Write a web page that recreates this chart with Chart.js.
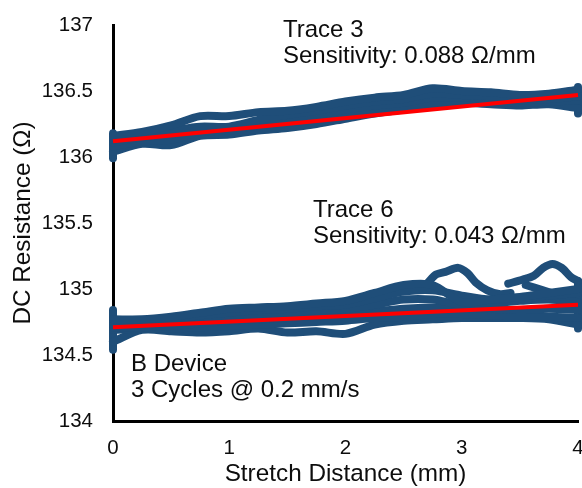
<!DOCTYPE html>
<html>
<head>
<meta charset="utf-8">
<script src="https://cdn.jsdelivr.net/npm/chart.js@4"></script>
<style>
  html, body { margin: 0; padding: 0; background: #fff; }
  #wrap { width: 582px; height: 488px; }
</style>
</head>
<body>
<div id="wrap"><canvas id="myChart" width="582" height="488"></canvas></div>
<script>
// axis ticks
const xTicks = [0, 1, 2, 3, 4];
const yTicks = [134, 134.5, 135, 135.5, 136, 136.5, 137];

// shared stretch positions (mm) for the cycle curves
const xTrace = [0, 0.25, 0.5, 0.75, 1, 1.25, 1.5, 1.75, 2, 2.25, 2.5, 2.75, 3, 3.25, 3.5, 3.75, 4];

// Trace 3 cycle curves (ohm)
const trace3A = [136.16, 136.19, 136.24, 136.31, 136.31, 136.34, 136.35, 136.38, 136.42, 136.45, 136.47, 136.52, 136.50, 136.49, 136.47, 136.48, 136.51];
const trace3B = [136.13, 136.17, 136.20, 136.23, 136.23, 136.28, 136.32, 136.35, 136.39, 136.42, 136.44, 136.48, 136.47, 136.46, 136.44, 136.46, 136.48];
const trace3C = [136.11, 136.15, 136.17, 136.21, 136.22, 136.26, 136.29, 136.32, 136.36, 136.39, 136.41, 136.45, 136.45, 136.44, 136.43, 136.44, 136.46];
const trace3D = [136.08, 136.12, 136.13, 136.19, 136.20, 136.24, 136.26, 136.29, 136.33, 136.36, 136.38, 136.41, 136.43, 136.42, 136.41, 136.42, 136.43];
const trace3E = [136.04, 136.10, 136.09, 136.16, 136.17, 136.20, 136.22, 136.25, 136.29, 136.33, 136.36, 136.39, 136.41, 136.40, 136.39, 136.40, 136.37];

// Trace 6 cycle curves (ohm)
const trace6A = [134.77, 134.77, 134.79, 134.82, 134.85, 134.86, 134.87, 134.89, 134.91, 134.97, 135.03, 135.03, 134.90, 134.92, 134.94, 134.97, 135.00];
const trace6B = [134.75, 134.75, 134.77, 134.80, 134.82, 134.84, 134.85, 134.87, 134.88, 134.93, 134.98, 134.99, 134.95, 134.92, 134.93, 134.95, 134.97];
const trace6C = [134.73, 134.73, 134.75, 134.77, 134.79, 134.81, 134.82, 134.84, 134.85, 134.88, 134.92, 134.92, 134.88, 134.89, 134.91, 134.92, 134.90];
const trace6D = [134.71, 134.71, 134.72, 134.74, 134.76, 134.77, 134.78, 134.80, 134.81, 134.83, 134.85, 134.86, 134.86, 134.85, 134.84, 134.85, 134.84];
const trace6E = [134.69, 134.70, 134.70, 134.71, 134.72, 134.73, 134.74, 134.75, 134.76, 134.78, 134.79, 134.81, 134.81, 134.80, 134.79, 134.79, 134.78];
const trace6F = [134.60, 134.69, 134.68, 134.67, 134.68, 134.70, 134.67, 134.68, 134.66, 134.73, 134.76, 134.77, 134.78, 134.78, 134.78, 134.77, 134.73];

// Trace 6 excursions near the end of the stroke
const spike1X = [2.70, 2.78, 2.86, 2.97, 3.05, 3.12, 3.22, 3.33, 3.42];
const spike1Y = [135.04, 135.11, 135.13, 135.16, 135.12, 135.05, 134.99, 134.96, 134.97];
const spike2X = [3.40, 3.52, 3.62, 3.70, 3.78, 3.86, 3.94, 4.00];
const spike2Y = [135.04, 135.07, 135.10, 135.16, 135.19, 135.16, 135.09, 135.06];
const spike3X = [3.55, 3.70, 3.85, 4.00];
const spike3Y = [135.03, 134.99, 134.95, 134.93];

// readings held at the stroke ends (x = 0 and x = 4)
const span3Start = [135.99, 136.18];
const span3End = [136.33, 136.53];
const span6Start = [134.54, 134.84];
const span6End = [134.70, 135.06];

// linear fits
const fitX = [0, 4];
const fit3 = [136.12, 136.47];
const fit6 = [134.71, 134.88];

// text notes
const notes = [
    ["Trace 3", "Sensitivity: 0.088 \u03A9/mm"],
    ["Trace 6", "Sensitivity: 0.043 \u03A9/mm"],
    ["B Device", "3 Cycles @ 0.2 mm/s"]
];

const BLUE = '#1f4e79';
const FONT = "'Liberation Sans', Arial, sans-serif";

function pts(xs, ys) {
    return xs.map(function (x, i) { return { x: x, y: ys[i] }; });
}
function fixedX(x, ys) {
    return ys.map(function (y) { return { x: x, y: y }; });
}

function blue(data) {
    return {
        data: data,
        borderColor: BLUE,
        backgroundColor: BLUE,
        borderWidth: 8,
        borderCapStyle: 'round',
        borderJoinStyle: 'round',
        pointRadius: 0,
        tension: 0.3,
        clip: false,
        order: 1
    };
}
function red(data) {
    return {
        data: data,
        borderColor: '#ff0000',
        borderWidth: 4,
        pointRadius: 0,
        tension: 0,
        clip: false,
        order: 0
    };
}

let datasets = [
    red(pts(fitX, fit3)),
    red(pts(fitX, fit6))
];
[trace3A, trace3B, trace3C, trace3D, trace3E,
 trace6A, trace6B, trace6C, trace6D, trace6E, trace6F].forEach(function (ys) {
    datasets.push(blue(pts(xTrace, ys)));
});
datasets.push(blue(pts(spike1X, spike1Y)));
datasets.push(blue(pts(spike2X, spike2Y)));
datasets.push(blue(pts(spike3X, spike3Y)));
datasets.push(blue(fixedX(0, span3Start)));
datasets.push(blue(fixedX(4, span3End)));
datasets.push(blue(fixedX(0, span6Start)));
datasets.push(blue(fixedX(4, span6End)));

// draws the text notes inside the plot
const notesPlugin = {
    id: 'notes',
    afterDatasetsDraw: function (chart) {
        const ctx = chart.ctx;
        // left edge and first baseline of each note block
        const spots = [[283, 36.7], [313, 216.7], [131, 370.7]];
        ctx.save();
        ctx.fillStyle = '#0d0d0d';
        ctx.font = "24px " + FONT;
        ctx.textAlign = 'left';
        ctx.textBaseline = 'alphabetic';
        for (let i = 0; i < notes.length; i++) {
            for (let j = 0; j < notes[i].length; j++) {
                ctx.fillText(notes[i][j], spots[i][0], spots[i][1] + j * 26.7);
            }
        }
        ctx.restore();
    }
};

let ctx = document.getElementById('myChart').getContext('2d');
let chart = new Chart(ctx, {
    type: 'line',
    data: { datasets: datasets },
    options: {
        responsive: false,
        animation: false,
        events: [],
        layout: {
            autoPadding: false,
            padding: { top: 25, right: 4, left: 0, bottom: 0 }
        },
        plugins: {
            legend: { display: false },
            tooltip: { enabled: false }
        },
        scales: {
            x: {
                type: 'linear',
                min: 0,
                max: 4,
                afterBuildTicks: function (scale) {
                    scale.ticks = xTicks.map(function (v) { return { value: v }; });
                },
                afterFit: function (scale) {
                    scale.height = 67;
                    scale.paddingLeft = 0;
                    scale.paddingRight = 0;
                },
                grid: { display: false, drawTicks: false },
                border: { display: true, color: '#000', width: 3 },
                ticks: {
                    padding: 15,
                    color: '#0d0d0d',
                    font: { family: FONT, size: 20.5 },
                    maxRotation: 0,
                    callback: function (v) { return String(v); }
                },
                title: {
                    display: true,
                    text: 'Stretch Distance (mm)',
                    color: '#0d0d0d',
                    font: { family: FONT, size: 24.3, lineHeight: 1.1 },
                    padding: { top: 0, bottom: 0 }
                }
            },
            y: {
                type: 'linear',
                min: 134,
                max: 137,
                afterBuildTicks: function (scale) {
                    scale.ticks = yTicks.map(function (v) { return { value: v }; });
                },
                afterFit: function (scale) {
                    scale.width = 113;
                    scale.paddingTop = 0;
                    scale.paddingBottom = 0;
                },
                grid: { display: false, drawTicks: false },
                border: { display: true, color: '#000', width: 3 },
                ticks: {
                    padding: 20,
                    color: '#0d0d0d',
                    font: { family: FONT, size: 20.5 },
                    callback: function (v) { return String(v); }
                },
                title: {
                    display: true,
                    text: 'DC Resistance (\u03A9)',
                    color: '#0d0d0d',
                    font: { family: FONT, size: 24.3, lineHeight: 1.2 },
                    padding: { top: 9, bottom: 0 }
                }
            }
        }
    },
    plugins: [notesPlugin]
});
</script>
</body>
</html>
